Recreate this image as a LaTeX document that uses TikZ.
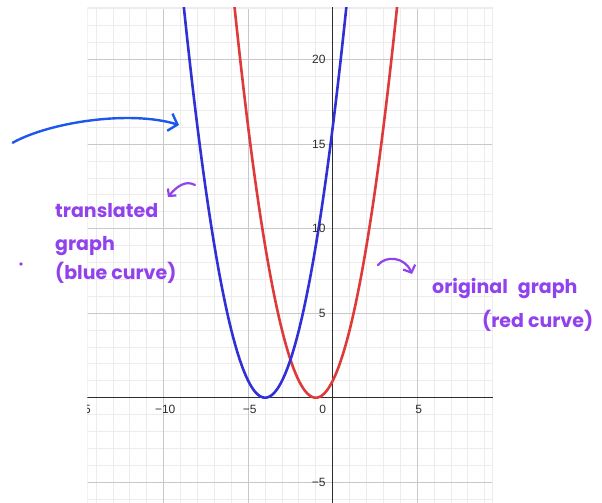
\documentclass[tikz,border=0pt]{standalone}
\usepackage{fontspec}
\setmainfont{Liberation Sans}
\newfontfamily\handfont{Poppins}
\usetikzlibrary{arrows.meta}

\definecolor{curveBlue}{RGB}{48,48,214}
\definecolor{curveRed}{RGB}{222,58,58}
\definecolor{inkPurple}{RGB}{146,66,236}
\definecolor{inkBlue}{RGB}{28,88,236}
\definecolor{gridMinor}{RGB}{236,236,236}
\definecolor{gridMajor}{RGB}{200,200,200}
\definecolor{axisGray}{RGB}{45,45,45}

\begin{document}
\begin{tikzpicture}[
    x=1pt, y=1pt,
    minorLine/.style={draw=gridMinor, line width=1pt},
    majorLine/.style={draw=gridMajor, line width=1.1pt},
    axisLine/.style={draw=axisGray, line width=1.3pt},
    blueCurve/.style={draw=curveBlue, line width=2.6pt},
    redCurve/.style={draw=curveRed, line width=2.6pt},
    tickLabel/.style={font=\fontsize{12}{14}\selectfont, text=axisGray, inner sep=0pt},
    handText/.style={font=\handfont\bfseries\fontsize{19}{22}\selectfont, text=inkPurple, inner sep=0pt, anchor=base west},
    inkArrow/.style={draw=inkPurple, line width=2.2pt, line cap=round, line join=round},
    blueInk/.style={draw=inkBlue, line width=2.4pt, line cap=round, line join=round}
]
\useasboundingbox (0,0) rectangle (602,-503);

% ================= GRAPH AREA =================
\begin{scope}[shift={(332.7,-397.7)}, x=16.9pt, y=16.9pt]
    \clip (-14.52,-6.4) rectangle (9.47,23.06);
    % minor grid
    \foreach \k in {-15,...,10} \draw[minorLine] (\k,-7) -- (\k,24);
    \foreach \k in {-7,...,24} \draw[minorLine] (-15,\k) -- (10,\k);
    % major grid
    \foreach \k in {-15,-10,...,10} \draw[majorLine] (\k,-7) -- (\k,24);
    \foreach \k in {-5,0,...,20} \draw[majorLine] (-15,\k) -- (10,\k);
    \draw[gridMinor, line width=2pt] (-14.52,-6.4) rectangle (9.47,23.06);
    % axes
    \draw[axisLine] (-15,0) -- (10,0);
    \draw[axisLine] (0,-7) -- (0,24);
    % curves
    \draw[redCurve] plot[domain=-6.1:4.1, samples=120] (\x,{(\x+1)^2});
    \draw[blueCurve] plot[domain=-9.1:1.1, samples=120] (\x,{(\x+4)^2});
    % tick labels
    \foreach \v/\t in {-15/−15,-10/−10,-5/−5,5/5}
        \node[tickLabel, anchor=north, xshift=1.5pt, yshift=-7.5pt] (xlab\v) at (\v,0) {\t};
    \node[tickLabel, anchor=north east, xshift=-6.5pt, yshift=-7.5pt] (origin) at (0,0) {0};
    \foreach \v/\t in {-5/−5,5/5,10/10,15/15,20/20}
        \node[tickLabel, anchor=east, xshift=-7pt] (ylab\v) at (0,\v) {\t};
\end{scope}

% ================= BLUE ARROW =================
\coordinate (blueTail) at (12.7,-142.7);
\coordinate (blueTip) at (179,-125);
\draw[blueInk, -{Straight Barb[length=8pt, width=18pt]}] (blueTail) .. controls (50,-122) and (130,-110) .. (blueTip);

% ================= TRANSLATED GRAPH NOTE =================
\node[handText] (transText) at (55,-217) {translated};
\node[handText] (graphText) at (55,-250) {graph};
\node[handText] (blueText) at (55,-279) {(blue curve)};
\coordinate (transTail) at (195,-185);
\coordinate (transTip) at (168,-197);
\draw[inkArrow, -{Straight Barb[length=5pt, width=11pt]}] (transTail) .. controls (186,-180) and (177,-186) .. (transTip);
\node[circle, fill=inkPurple, inner sep=1.4pt] (dot) at (21,-264) {};

% ================= ORIGINAL GRAPH NOTE =================
\node[handText] (origText) at (432,-293) {original\hspace{6pt} graph};
\node[handText] (redText) at (482,-327) {(red curve)};
\coordinate (redTail) at (378,-265);
\coordinate (redTip) at (412,-274);
\draw[inkArrow, -{Straight Barb[length=6pt, width=13pt]}] (redTail) .. controls (386,-255) and (405,-257) .. (redTip);

\end{tikzpicture}
\end{document}
